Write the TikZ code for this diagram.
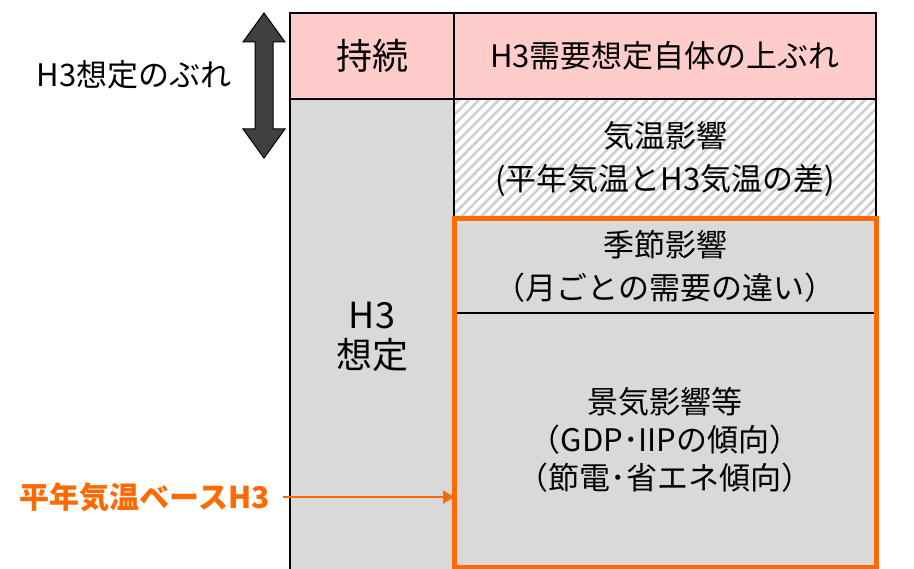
\documentclass[tikz,border=0pt]{standalone}
\usepackage{fontspec}
\setmainfont{Noto Sans CJK JP}
\usetikzlibrary{arrows.meta,patterns.meta}
\definecolor{pinkc}{HTML}{FFCCCC}
\definecolor{grayc}{HTML}{D9D9D9}
\definecolor{hatchc}{HTML}{CFCFCF}
\definecolor{orangec}{HTML}{FF6A00}
\definecolor{arrowc}{HTML}{404040}
\tikzset{
  cell/.style={anchor=north west,inner sep=0pt,outer sep=0pt,draw=black,line width=1.8pt},
  txt/.style={align=center,inner sep=0pt,font=\fontsize{31}{43}\selectfont},
  bigtxt/.style={align=center,inner sep=0pt,font=\fontsize{36}{40}\selectfont},
}
\begin{document}
\begin{tikzpicture}[x=1pt,y=-1pt]
\useasboundingbox (0,0) rectangle (914,569);
\clip (0,0) rectangle (914,569);
% cells
\node[cell,fill=pinkc,minimum width=164pt,minimum height=86pt] (c1) at (290,13) {};
\node[cell,fill=pinkc,minimum width=422pt,minimum height=86pt] (c2) at (454,13) {};
\node[cell,fill=grayc,minimum width=164pt,minimum height=480pt] (c3) at (290,99) {};
\node[cell,fill=white,minimum width=422pt,minimum height=120pt] (c4) at (454,99) {};
\fill[pattern={Lines[angle=45,distance=7pt,line width=2.6pt]},pattern color=hatchc] (455,100) rectangle (875,218);
\draw[line width=1.8pt] (c4.north west) rectangle (c4.south east);
\node[cell,draw=none,fill=grayc,minimum width=422pt,minimum height=94pt] (c5) at (454,219) {};
\node[cell,draw=none,fill=grayc,minimum width=422pt,minimum height=254pt] (c6) at (454,313) {};
\draw[line width=1.8pt] (c5.south west) -- (c5.south east);
\draw[orangec,line width=5pt] (c5.north west) rectangle (c6.south east);
% texts
\node[bigtxt] (t1) at (c1.center) {持続};
\node[txt] (t2) at (c2.center) {H3需要想定自体の上ぶれ};
\node[txt] (t4) at (c4.center) {気温影響\\(平年気温とH3気温の差)};
\node[txt] (t5) at (c5.center) {季節影響\\（月ごとの需要の違い）};
\node[txt,font=\fontsize{31}{38}\selectfont] (t6) at (c6.center) {景気影響等\\（GDP･IIPの傾向）\\（節電･省エネ傾向）};
\node[bigtxt] (t3) at (372,337) {H3\\想定};
% left label and double arrow
\node[txt,font=\fontsize{31}{34}\selectfont] (lbl) at (134,75) {H3想定のぶれ};
\draw[fill=arrowc,draw=black,line width=1pt]
  (264,13) -- (285,42) -- (273,42) -- (273,129) -- (285,129) -- (264,158)
  -- (243,129) -- (255,129) -- (255,42) -- (243,42) -- cycle;
% base label
\node[txt,font=\fontsize{30}{32}\selectfont\bfseries,text=orangec,anchor=east] (base) at (270,497) {平年気温ベースH3};
\coordinate (tip) at (c6.west |- base);
\draw[orangec,line width=2.8pt,-{Triangle[length=11pt,width=13pt]}] (base.east) ++(13,0) -- (tip);
\end{tikzpicture}
\end{document}
